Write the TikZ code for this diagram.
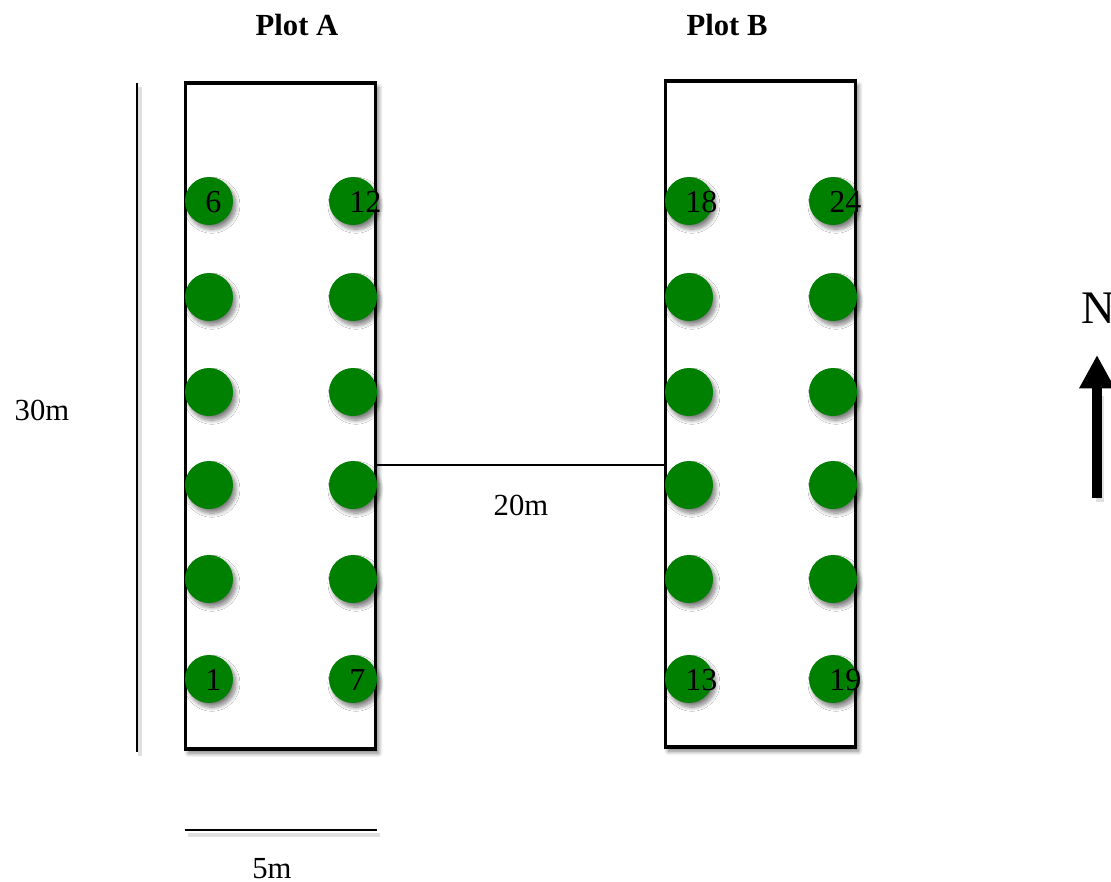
\documentclass[tikz,border=0pt]{standalone}
\usepackage{fontspec}
\setmainfont{Liberation Serif}
\usetikzlibrary{shadows.blur,arrows.meta}
\definecolor{treegreen}{RGB}{0,128,0}
\begin{document}
\begin{tikzpicture}[x=0.75pt,y=-0.75pt,
  sh/.style={blur shadow={shadow xshift=2.2pt,shadow yshift=-3.2pt,shadow blur steps=10,shadow blur radius=3pt,shadow opacity=50}},
  plotbox/.style={draw=black,fill=white,line width=2.3pt,minimum width=143pt,minimum height=499.5pt,inner sep=0pt,outer sep=0pt,sh},
  tree/.style={circle,fill=treegreen,minimum size=36pt,inner sep=0pt,sh},
  num/.style={anchor=west,inner sep=0pt,font=\fontsize{24}{28}\selectfont},
  lab/.style={inner sep=0pt,font=\fontsize{23}{27}\selectfont},
  title/.style={inner sep=0pt,font=\fontsize{23}{27}\selectfont\bfseries},
  dimline/.style={line width=1.6pt},
  dimshadow/.style={line width=3pt,draw=black!12}]
\useasboundingbox (0,0) rectangle (1111,882);
% plots
\node[plotbox] (A) at (280.5,416) {};
\node[plotbox] (B) at (760.5,414) {};
\node[title] (tA) at (297,25) {Plot A};
\node[title] (tB) at (727,25) {Plot B};
% trees
\foreach \y [count=\i] in {679,579,485,392,297,201}{
  \node[tree] (a\i) at (209,\y) {};
  \node[tree] (b\i) at (353,\y) {};
  \node[tree] (c\i) at (689,\y) {};
  \node[tree] (d\i) at (833,\y) {};
}
\node[num] (n1) at (205,680) {1};
\node[num] (n6) at (205,202) {6};
\node[num] (n7) at (349,680) {7};
\node[num] (n12) at (349,202) {12};
\node[num] (n13) at (685,680) {13};
\node[num] (n18) at (685,202) {18};
\node[num] (n19) at (829,680) {19};
\node[num] (n24) at (829,202) {24};
% 30m dimension
\coordinate (v1) at (137,83);
\coordinate (v2) at (137,752);
\draw[dimshadow] ([shift={(3,4)}]v1) -- ([shift={(3,4)}]v2);
\draw[dimline] (v1) -- (v2);
\node[lab] (l30) at (42,410) {30m};
% 5m dimension
\coordinate (h1) at (185,830);
\coordinate (h2) at (377,830);
\draw[dimshadow] ([shift={(3,5)}]h1) -- ([shift={(3,5)}]h2);
\draw[dimline] (h1) -- (h2);
\node[lab] (l5) at (272,869) {5m};
% 20m dimension
\coordinate (m1) at (A.east |- 0,465);
\coordinate (m2) at (B.west |- 0,465);
\draw[line width=1.2pt] (m1) -- (m2);
\node[lab] (l20) at (521,505) {20m};
% north arrow
\node[inner sep=0pt,font=\fontsize{35}{40}\selectfont] (N) at (1098,308) {N};
\coordinate (nb) at (1097,498);
\coordinate (nt) at (1097,355);
\draw[line width=6pt,draw=black!12] ([shift={(3,4)}]nb) -- ([shift={(3,4)}]1097,392);
\draw[line width=7pt,-{Triangle[width=25pt,length=25pt]}] (nb) -- (nt);
\end{tikzpicture}
\end{document}
